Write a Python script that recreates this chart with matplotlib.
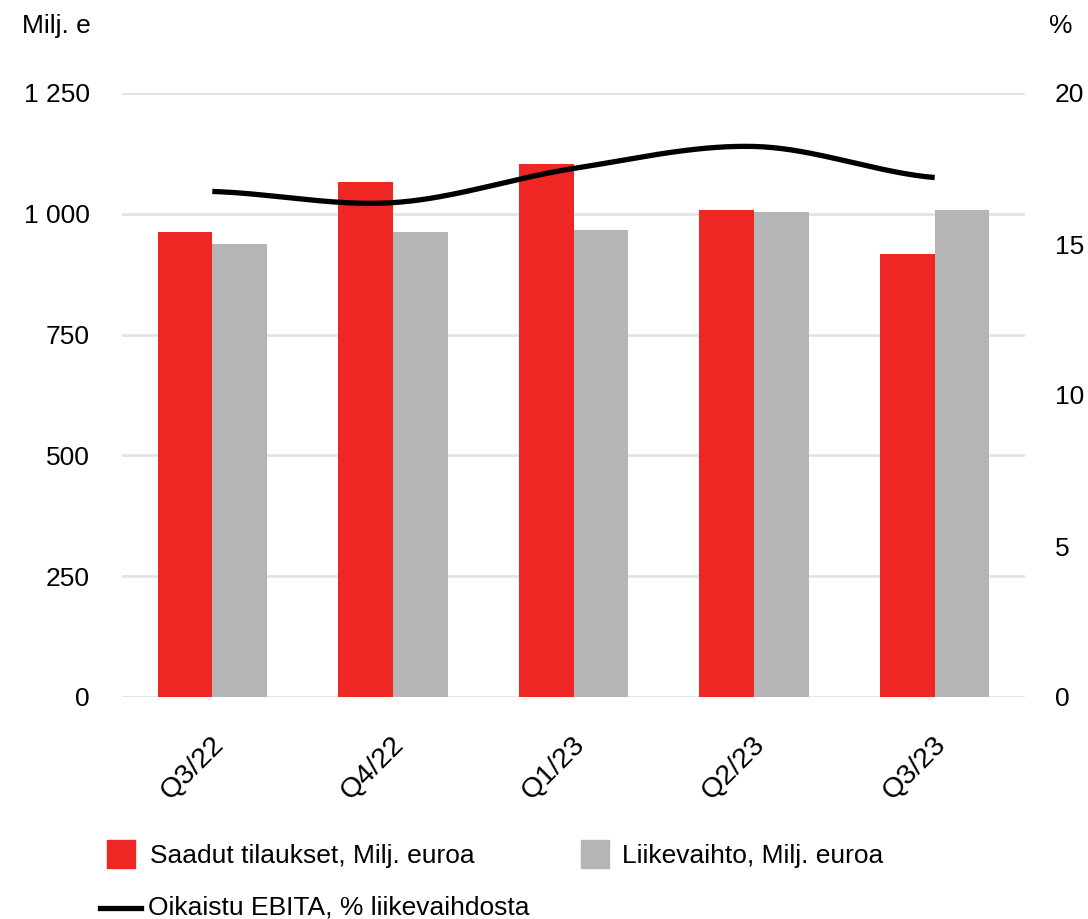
import numpy as np
import matplotlib
matplotlib.use("Agg")
import matplotlib.pyplot as plt
from matplotlib.patches import Rectangle
from matplotlib.lines import Line2D
from matplotlib.transforms import ScaledTranslation

categories = ["Q3/22", "Q4/22", "Q1/23", "Q2/23", "Q3/23"]
orders = [963, 1066, 1103, 1008, 917]
revenue = [938, 963, 966, 1004, 1008]
ebita_pct = [16.74, 16.37, 17.5, 18.23, 17.2]
left_ticks = [0, 250, 500, 750, 1000, 1250]
left_labels = ["0", "250", "500", "750", "1 000", "1 250"]
right_ticks = [0, 5, 10, 15, 20]
right_labels = ["0", "5", "10", "15", "20"]

RED = "#EE2724"
GRAY = "#B5B5B5"
GRID = "#E3E3E3"
FONT = "Liberation Sans"
FS = 19

plt.rcParams["font.family"] = [FONT, "DejaVu Sans"]

W, H = 1088, 919
fig = plt.figure(figsize=(W / 100, H / 100), dpi=100)
ax = fig.add_axes([122 / W, 1 - 697 / H, (1025 - 122) / W, (697 - 93) / H])
ax2 = ax.twinx()

x = np.arange(len(categories))
bw = 0.303
ax.bar(x - bw / 2, orders, width=bw, color=RED, zorder=2)
ax.bar(x + bw / 2, revenue, width=bw, color=GRAY, zorder=2)
ax.set_xlim(-0.5, len(categories) - 0.5)
ax.set_ylim(0, 1250)
ax.set_yticks(left_ticks)
ax.set_yticklabels(left_labels)
ax.grid(axis="y", color=GRID, linewidth=2, zorder=0)
ax.set_axisbelow(True)
for s in ax.spines.values():
    s.set_visible(False)
for s in ax2.spines.values():
    s.set_visible(False)
ax.tick_params(axis="y", length=0, pad=23, labelsize=FS)
ax.tick_params(axis="x", length=0, pad=8, labelsize=20.5)
ax.set_xticks(x)
ax.set_xticklabels(categories, rotation=45, ha="right", va="top", rotation_mode="anchor")
off = ScaledTranslation(-2 / 100, -23 / 100, fig.dpi_scale_trans)
for lab in ax.get_xticklabels():
    lab.set_transform(lab.get_transform() + off)

# smooth line (Catmull-Rom style smoothing for display)
def smooth(xs, ys, n=40):
    xs = np.asarray(xs, float); ys = np.asarray(ys, float)
    px = np.concatenate([[2 * xs[0] - xs[1]], xs, [2 * xs[-1] - xs[-2]]])
    py = np.concatenate([[ys[0]], ys, [ys[-1]]])
    outx, outy = [], []
    for i in range(1, len(px) - 2):
        t = np.linspace(0, 1, n)
        p0, p1, p2, p3 = [np.array([px[j], py[j]]) for j in (i - 1, i, i + 1, i + 2)]
        t2, t3 = t * t, t * t * t
        pts = 0.5 * ((2 * p1)[:, None] + (-p0 + p2)[:, None] * t
                     + (2 * p0 - 5 * p1 + 4 * p2 - p3)[:, None] * t2
                     + (-p0 + 3 * p1 - 3 * p2 + p3)[:, None] * t3)
        outx.extend(pts[0]); outy.extend(pts[1])
    return outx, outy

sx, sy = smooth(x, ebita_pct)
ax2.plot(sx, sy, color="black", linewidth=3.8, solid_capstyle="butt", zorder=3)
ax2.set_ylim(0, 20)
ax2.set_yticks(right_ticks)
ax2.set_yticklabels(right_labels)
ax2.tick_params(axis="y", length=0, pad=21.5, labelsize=FS)
ax.set_zorder(1); ax2.set_zorder(2); ax2.patch.set_visible(False)
ax.patch.set_visible(False)

fig.text(22 / W, 1 - 26 / H, "Milj. e", fontsize=FS, ha="left", va="center")
fig.text(1072 / W, 1 - 26 / H, "%", fontsize=FS, ha="right", va="center")

# legend
def fx(px): return px / W
def fy(py): return 1 - py / H
fig.add_artist(Rectangle((fx(107), fy(868)), 28 / W, 28 / H, color=RED, transform=fig.transFigure))
fig.text(fx(150), fy(856), "Saadut tilaukset, Milj. euroa", fontsize=FS, ha="left", va="center")
fig.add_artist(Rectangle((fx(581), fy(868)), 28 / W, 28 / H, color=GRAY, transform=fig.transFigure))
fig.text(fx(622), fy(856), "Liikevaihto, Milj. euroa", fontsize=FS, ha="left", va="center")
fig.add_artist(Line2D([fx(100), fx(141)], [fy(908), fy(908)], color="black", linewidth=3.8, transform=fig.transFigure))
fig.text(fx(148), fy(907), "Oikaistu EBITA, % liikevaihdosta", fontsize=FS, ha="left", va="center")

fig.savefig("out.png", dpi=100)
